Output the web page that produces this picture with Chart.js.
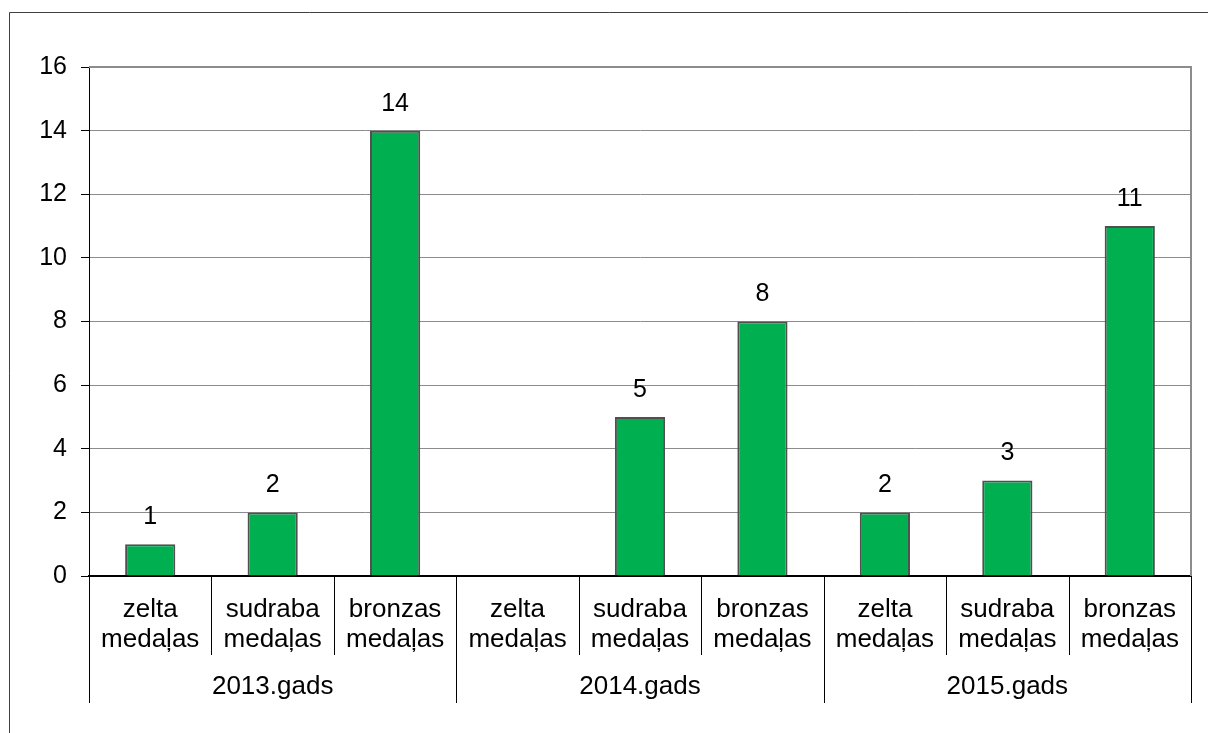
<!DOCTYPE html>
<html><head><meta charset="utf-8">
<script src="https://cdn.jsdelivr.net/npm/chart.js@4/dist/chart.umd.min.js"></script>
<style>html,body{margin:0;padding:0;background:#fff;overflow:hidden}canvas{display:block}</style>
</head><body>
<canvas id="c" width="1208" height="733"></canvas>
<script>
const categories = [
  ["zelta","medaļas"],["sudraba","medaļas"],["bronzas","medaļas"],
  ["zelta","medaļas"],["sudraba","medaļas"],["bronzas","medaļas"],
  ["zelta","medaļas"],["sudraba","medaļas"],["bronzas","medaļas"]
];
const medalCounts = [1, 2, 14, 0, 5, 8, 2, 3, 11];
const groupLabels = ["2013.gads", "2014.gads", "2015.gads"];
const groupSize = 3;
const yMin = 0, yMax = 16, yStep = 2;

const FONT = '"Liberation Sans", Arial, sans-serif';

const decorPlugin = {
  id: 'decor',
  beforeDraw(chart) {
    const ctx = chart.ctx;
    ctx.save();
    ctx.fillStyle = '#fff';
    ctx.fillRect(0, 0, chart.width, chart.height);
    ctx.strokeStyle = '#404040';
    ctx.lineWidth = 1;
    ctx.beginPath();
    ctx.moveTo(9.5, chart.height + 5);
    ctx.lineTo(9.5, 12.5);
    ctx.lineTo(chart.width + 5, 12.5);
    ctx.stroke();
    ctx.restore();
  },
  afterDatasetsDraw(chart) {
    const ctx = chart.ctx;
    const meta = chart.getDatasetMeta(0);
    ctx.save();
    ctx.font = '25px ' + FONT;
    ctx.fillStyle = '#000';
    ctx.textAlign = 'center';
    ctx.textBaseline = 'middle';
    meta.data.forEach((bar, i) => {
      const v = chart.data.datasets[0].data[i];
      if (v > 0) ctx.fillText(String(v), bar.x, bar.y - 27);
    });
    ctx.restore();
  },
  afterDraw(chart) {
    const ctx = chart.ctx;
    const a = chart.chartArea;
    const x = chart.scales.x;
    ctx.save();
    ctx.strokeStyle = '#8c8c8c';
    ctx.lineWidth = 2;
    ctx.beginPath();
    ctx.moveTo(a.left, a.top);
    ctx.lineTo(a.right, a.top);
    ctx.lineTo(a.right, a.bottom);
    ctx.stroke();
    const n = categories.length;
    ctx.strokeStyle = '#000';
    ctx.lineWidth = 1;
    for (let i = 0; i <= n; i++) {
      let px;
      if (i === 0) px = a.left;
      else if (i === n) px = a.right;
      else px = (x.getPixelForValue(i - 1) + x.getPixelForValue(i)) / 2;
      px = Math.round(px) + 0.5;
      const isGroup = i % groupSize === 0;
      ctx.beginPath();
      ctx.moveTo(px, a.bottom);
      ctx.lineTo(px, isGroup ? 703 : 655);
      ctx.stroke();
    }
    ctx.font = '26px ' + FONT;
    ctx.fillStyle = '#000';
    ctx.textAlign = 'center';
    ctx.textBaseline = 'middle';
    groupLabels.forEach((g, gi) => {
      const first = x.getPixelForValue(gi * groupSize);
      const last = x.getPixelForValue(gi * groupSize + groupSize - 1);
      ctx.fillText(g, (first + last) / 2, 687);
    });
    ctx.restore();
  }
};

new Chart(document.getElementById('c'), {
  type: 'bar',
  data: {
    labels: categories,
    datasets: [{
      data: medalCounts,
      backgroundColor: '#00b050',
      borderColor: '#505050',
      borderWidth: 2,
      categoryPercentage: 1,
      barPercentage: 0.41
    }]
  },
  options: {
    responsive: false,
    animation: false,
    devicePixelRatio: 1,
    layout: { padding: { left: 0, top: 67, right: 17, bottom: 0 } },
    plugins: { legend: { display: false }, tooltip: { enabled: false }, title: { display: false } },
    scales: {
      y: {
        min: yMin, max: yMax,
        ticks: { stepSize: yStep, color: '#000', font: { family: FONT, size: 25 }, padding: 14 },
        grid: { color: '#8c8c8c', tickColor: '#000', tickLength: 8, lineWidth: 1 },
        border: { color: '#000', width: 1 },
        afterFit(s) { s.width = 89; }
      },
      x: {
        grid: { display: false, drawTicks: false },
        border: { color: '#000', width: 2 },
        ticks: { color: '#000', font: { family: FONT, size: 26, lineHeight: 1.15 }, padding: 19, maxRotation: 0, autoSkip: false },
        afterFit(s) { s.height = 157; }
      }
    }
  },
  plugins: [decorPlugin]
});
</script>
</body></html>
